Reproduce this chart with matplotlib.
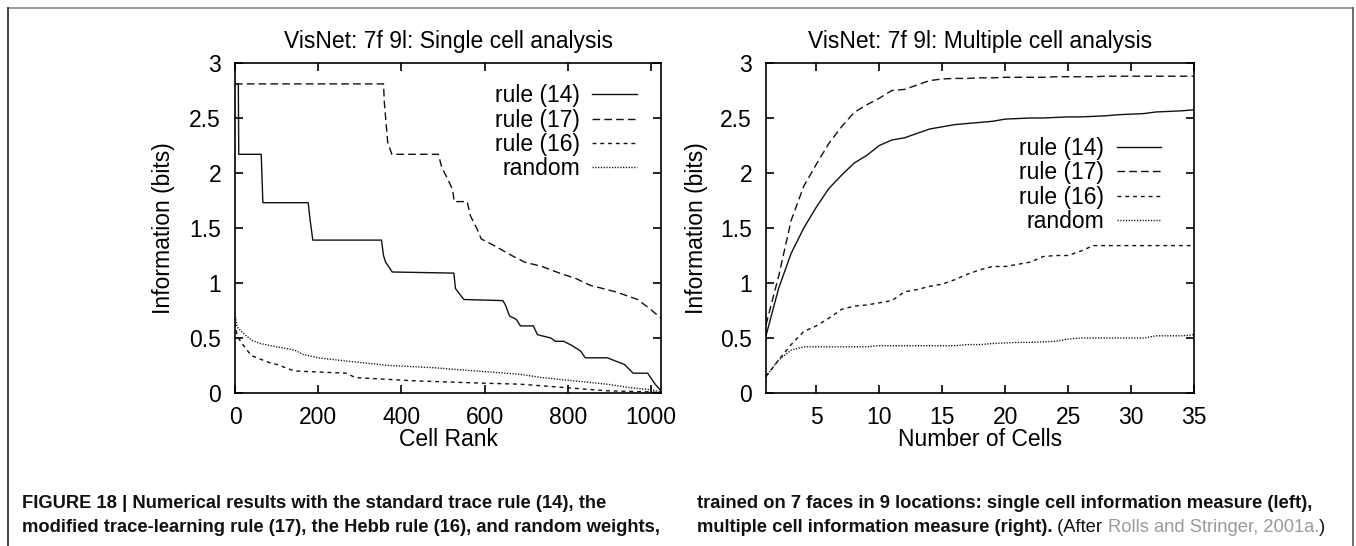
import matplotlib.pyplot as plt
from matplotlib.lines import Line2D

plt.rcParams['font.family'] = ['Liberation Sans', 'DejaVu Sans']

# single cell analysis: information of each cell, sorted by rank
rank_14 = [0, 8, 9, 63, 67, 176, 180, 187, 352, 357, 362, 378, 526, 530, 550,
           644, 650, 660, 676, 686, 717, 727, 759, 770, 790, 811, 831, 842,
           895, 915, 936, 957, 992, 999, 1010, 1024]
info_14 = [2.81, 2.81, 2.17, 2.17, 1.73, 1.73, 1.59, 1.39, 1.39, 1.25, 1.19,
           1.10, 1.09, 0.95, 0.85, 0.84, 0.80, 0.70, 0.67, 0.61, 0.61, 0.53,
           0.50, 0.47, 0.47, 0.43, 0.38, 0.32, 0.32, 0.29, 0.26, 0.18, 0.18,
           0.14, 0.08, 0.02]

rank_17 = [0, 357, 359, 367, 377, 489, 497, 508, 523, 527, 558, 566, 582, 592,
           623, 665, 696, 738, 780, 820, 853, 915, 968, 999, 1024]
info_17 = [2.81, 2.81, 2.64, 2.28, 2.17, 2.17, 2.05, 1.97, 1.85, 1.74, 1.74,
           1.61, 1.49, 1.40, 1.34, 1.25, 1.19, 1.15, 1.09, 1.04, 0.98, 0.92,
           0.85, 0.76, 0.68]

rank_16 = [0, 5, 15, 39, 80, 100, 143, 268, 289, 435, 592, 686, 790, 895,
           1000, 1024]
info_16 = [0.64, 0.52, 0.46, 0.34, 0.28, 0.26, 0.20, 0.18, 0.14, 0.11, 0.09,
           0.08, 0.05, 0.02, 0.01, 0.0]

rank_rand = [0, 5, 18, 40, 60, 100, 143, 164, 200, 268, 372, 477, 581, 686,
             738, 790, 895, 947, 999, 1024]
info_rand = [0.72, 0.60, 0.55, 0.48, 0.45, 0.42, 0.39, 0.35, 0.32, 0.29,
             0.25, 0.23, 0.20, 0.17, 0.14, 0.12, 0.08, 0.05, 0.03, 0.01]

# multiple cell analysis: information vs number of cells
n_cells = list(range(1, 36))
multi_14 = [0.52, 0.95, 1.27, 1.50, 1.69, 1.86, 1.98, 2.09, 2.16, 2.25, 2.30,
            2.32, 2.36, 2.40, 2.42, 2.44, 2.45, 2.46, 2.47, 2.49, 2.495, 2.50,
            2.50, 2.505, 2.51, 2.51, 2.515, 2.52, 2.53, 2.535, 2.54, 2.555,
            2.56, 2.565, 2.575]
multi_17 = [0.62, 1.06, 1.57, 1.88, 2.08, 2.27, 2.42, 2.55, 2.62, 2.68, 2.75,
            2.76, 2.80, 2.84, 2.855, 2.86, 2.86, 2.865, 2.865, 2.87, 2.87,
            2.87, 2.87, 2.875, 2.875, 2.875, 2.875, 2.88, 2.88, 2.88, 2.88,
            2.88, 2.88, 2.88, 2.88]
multi_16 = [0.15, 0.30, 0.44, 0.56, 0.61, 0.68, 0.76, 0.79, 0.80, 0.82, 0.84,
            0.92, 0.94, 0.97, 0.99, 1.03, 1.08, 1.12, 1.15, 1.15, 1.17, 1.19,
            1.24, 1.25, 1.25, 1.29, 1.34, 1.34, 1.34, 1.34, 1.34, 1.34, 1.34,
            1.34, 1.34]
multi_rand = [0.15, 0.30, 0.39, 0.42, 0.42, 0.42, 0.42, 0.42, 0.42, 0.43, 0.43,
              0.43, 0.43, 0.43, 0.43, 0.43, 0.44, 0.44, 0.45, 0.455, 0.46,
              0.46, 0.465, 0.47, 0.49, 0.50, 0.50, 0.50, 0.50, 0.50, 0.50,
              0.52, 0.52, 0.52, 0.53]

labels = ['rule (14)', 'rule (17)', 'rule (16)', 'random']
styles = [dict(ls='-'),
          dict(ls=(0, (5.5, 3.0))),
          dict(ls=(0, (2.8, 2.8))),
          dict(ls=(0, (0.9, 1.1)))]

FS = 16.5
LINE = '#111111'

fig = plt.figure(figsize=(13.56, 5.46), dpi=100)
W, H = 1356, 546


def axes_at(x0, x1, y0, y1):
    return fig.add_axes([x0 / W, 1 - y1 / H, (x1 - x0) / W, (y1 - y0) / H])


def style_axes(ax):
    for s in ax.spines.values():
        s.set_linewidth(1.2)
    ax.tick_params(direction='in', length=6, width=1.2, top=True, right=True,
                   labelsize=FS)
    ax.tick_params(axis='x', pad=9)
    ax.tick_params(axis='y', pad=10)
    ax.set_ylim(0, 3)
    ax.set_yticks([0, 0.5, 1, 1.5, 2, 2.5, 3])
    ax.set_yticklabels(['0', '0.5', '1', '1.5', '2', '2.5', '3'])


def add_legend(ax, handles, x, y):
    ax.legend(handles, labels, loc='upper right', bbox_to_anchor=(x, y),
              frameon=False, markerfirst=False, fontsize=FS,
              handlelength=1.95, handletextpad=0.55, labelspacing=0.05,
              borderpad=0, borderaxespad=0)


# left panel
ax1 = axes_at(235, 661, 63, 393)
series1 = [(rank_14, info_14), (rank_17, info_17), (rank_16, info_16),
           (rank_rand, info_rand)]
h1 = []
for (xs, ys), st in zip(series1, styles):
    h1 += ax1.plot(xs, ys, color=LINE, lw=1.0, **st)
style_axes(ax1)
ax1.set_xlim(0, 1024)
ax1.set_xticks([0, 200, 400, 600, 800, 1000])
ax1.set_title('VisNet: 7f 9l: Single cell analysis', fontsize=FS, pad=11)
ax1.set_xlabel('Cell Rank', fontsize=FS)
ax1.set_ylabel('Information (bits)', fontsize=FS)
ax1.xaxis.set_label_coords(0.5, -0.105)
ax1.yaxis.set_label_coords(-0.14, 0.5)
add_legend(ax1, h1, 0.944, 0.935)

# right panel
ax2 = axes_at(766, 1194, 63, 393)
series2 = [multi_14, multi_17, multi_16, multi_rand]
h2 = []
for ys, st in zip(series2, styles):
    h2 += ax2.plot(n_cells, ys, color=LINE, lw=1.0, **st)
style_axes(ax2)
ax2.set_xlim(1, 35)
ax2.set_xticks([5, 10, 15, 20, 25, 30, 35])
ax2.set_title('VisNet: 7f 9l: Multiple cell analysis', fontsize=FS, pad=11)
ax2.set_xlabel('Number of Cells', fontsize=FS)
ax2.set_ylabel('Information (bits)', fontsize=FS)
ax2.xaxis.set_label_coords(0.5, -0.105)
ax2.yaxis.set_label_coords(-0.135, 0.5)
add_legend(ax2, h2, 0.924, 0.775)

# page frame
fig.add_artist(Line2D([7.5 / W, 1353 / W], [1 - 7.5 / H, 1 - 7.5 / H],
                      transform=fig.transFigure, color='#8a8a8a', lw=1.2))
fig.add_artist(Line2D([7.5 / W, 7.5 / W], [0, 1 - 7.5 / H],
                      transform=fig.transFigure, color='#222222', lw=1.2))
fig.add_artist(Line2D([1353 / W, 1353 / W], [0, 1 - 7.5 / H],
                      transform=fig.transFigure, color='#555555', lw=1.2))

# caption, two columns, pieces laid out left to right
CAP = dict(family=['Liberation Sans Narrow', 'Liberation Sans', 'DejaVu Sans'],
           fontsize=13.2, va='center')
renderer = fig.canvas.get_renderer()


def caption_line(x, y, parts):
    for text, kw in parts:
        t = fig.text(x / W, 1 - y / H, text, **CAP, **kw)
        x += t.get_window_extent(renderer=renderer).width


bold = dict(weight='bold', color='#111111')
plain = dict(color='#111111')
grey = dict(color='#9a9a9a')

caption_line(22, 503, [('FIGURE 18 | Numerical results with the standard '
                        'trace rule (14), the', bold)])
caption_line(22, 528, [('modified trace-learning rule (17), the Hebb rule '
                        '(16), and random weights,', bold)])
caption_line(697, 503, [('trained on 7 faces in 9 locations: single cell '
                         'information measure (left),', bold)])
caption_line(697, 528, [('multiple cell information measure (right).', bold),
                        (' (After ', plain),
                        ('Rolls and Stringer, 2001a.', grey),
                        (')', plain)])

fig.savefig('out.png', dpi=100)
